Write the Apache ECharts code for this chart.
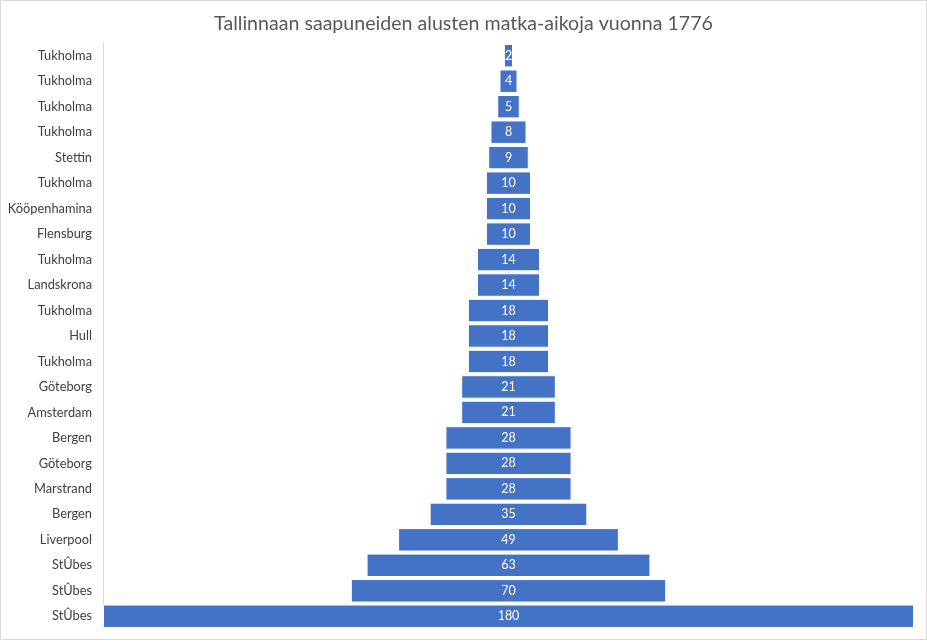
<!DOCTYPE html>
<html>
<head>
<meta charset="utf-8">
<script src="https://cdn.jsdelivr.net/npm/echarts@6/dist/echarts.min.js"></script>
<style>
html,body{margin:0;padding:0;background:#fff;}
#frame{position:absolute;left:0;top:0;width:925px;height:638px;border:1px solid #d9d9d9;}
#chart{position:absolute;left:0;top:0;width:927px;height:642px;}
</style>
</head>
<body>
<div id="frame"></div>
<div id="chart"></div>
<script>
const titleText = 'Tallinnaan saapuneiden alusten matka-aikoja vuonna 1776';
const ports = ['Tukholma','Tukholma','Tukholma','Tukholma','Stettin','Tukholma','Kööpenhamina','Flensburg','Tukholma','Landskrona','Tukholma','Hull','Tukholma','Göteborg','Amsterdam','Bergen','Göteborg','Marstrand','Bergen','Liverpool','StÛbes','StÛbes','StÛbes'];
const days = [2,4,5,8,9,10,10,10,14,14,18,18,18,21,21,28,28,28,35,49,63,70,180];
const maxDays = 180;

const offsets = days.map(v => (maxDays - v) / 2);
const chart = echarts.init(document.getElementById('chart'));
chart.setOption({
  animation: false,
  title: {
    text: titleText, left: 'center', top: 9,
    textStyle: {fontFamily: 'Lato', fontSize: 19.6, fontWeight: 'normal', color: '#595959'}
  },
  grid: {left: 103, right: 13, top: 43, bottom: 13, containLabel: false},
  xAxis: {type: 'value', min: 0, max: maxDays, show: false},
  yAxis: {
    type: 'category', inverse: true,
    data: ports.map((p, i) => ({value: p + '#' + i})),
    axisLine: {show: true, lineStyle: {color: '#d9d9d9'}},
    axisTick: {show: false},
    splitLine: {show: false},
    axisLabel: {
      formatter: (v, i) => ports[i],
      fontFamily: 'Lato', fontSize: 12.8, color: '#404040', margin: 11
    }
  },
  series: [
    {type: 'bar', stack: 's', data: offsets, itemStyle: {color: 'transparent'}, barCategoryGap: '8%', silent: true},
    {type: 'bar', stack: 's', data: days, barCategoryGap: '8%',
     itemStyle: {color: '#4472C4', borderColor: '#ffffff', borderWidth: 1},
     label: {show: true, position: 'inside', color: '#ffffff', fontFamily: 'Lato', fontSize: 12.5}}
  ]
});
</script>
</body>
</html>
